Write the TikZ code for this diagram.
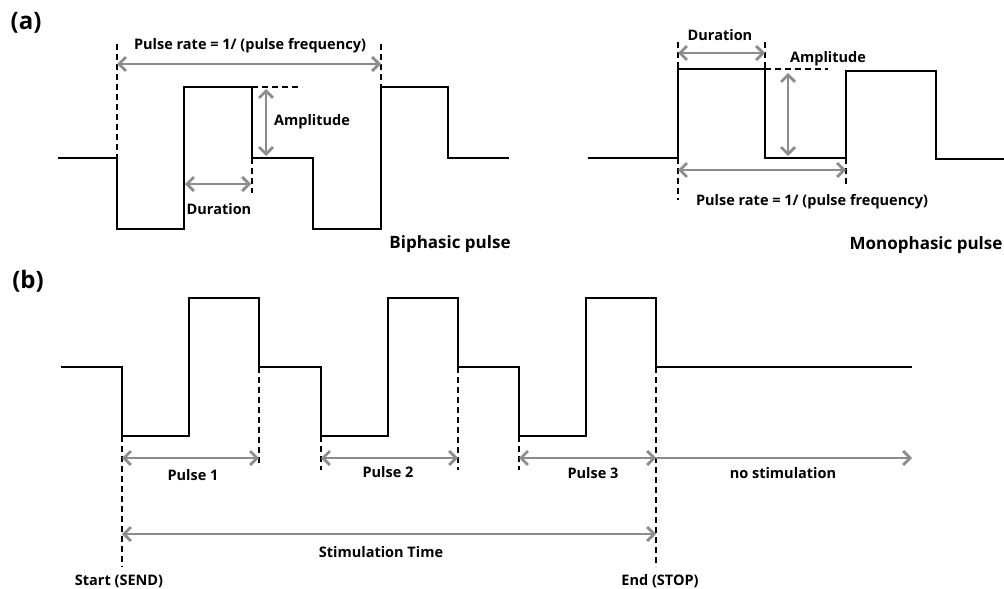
\documentclass[tikz,border=0pt]{standalone}
\usepackage{fontspec}
\setmainfont{Open Sans}
\usetikzlibrary{arrows.meta}
\definecolor{waveink}{HTML}{000000}
\definecolor{dimgray}{HTML}{8C8C8C}
\tikzset{
  wave/.style={draw=waveink, line width=2.8pt},
  guide/.style={draw=waveink, line width=1.6pt, dash pattern=on 6pt off 4pt},
  dimarrow/.style={draw=dimgray, line width=2.8pt,
    {Straight Barb[length=7pt,width=14pt]}-{Straight Barb[length=7pt,width=14pt]}},
  onearrow/.style={draw=dimgray, line width=2.8pt,
    -{Straight Barb[length=7pt,width=14pt]}},
  dimtext/.style={font=\bfseries\fontsize{14.5}{17}\selectfont, inner sep=0pt, text=waveink},
  titletext/.style={font=\bfseries\fontsize{17}{20}\selectfont, inner sep=0pt, text=waveink},
  tagtext/.style={font=\bfseries\fontsize{24}{28}\selectfont, inner sep=0pt, text=waveink},
}

\begin{document}
\begin{tikzpicture}[x=1pt, y=-1pt]
  \useasboundingbox (0,0) rectangle (1004,589);

  % (a) biphasic
  \node[tagtext] (taga) at (26,23) {(a)};
  \draw[wave] (58,158) -- (117,158) -- (117,229) -- (184,229) -- (184,87) -- (252,87)
    -- (252,158) -- (313,158) -- (313,229) -- (381,229) -- (381,87) -- (448,87)
    -- (448,158) -- (509,158);
  \coordinate (bA) at (117,44);
  \coordinate (bB) at (381,44);
  \draw[guide] (bA) -- (117,158);
  \draw[guide] (bB) -- (381,87);
  \draw[guide] (252,158) -- (252,193);
  \draw[guide] (252,87) -- (302,87);
  \draw[dimarrow] (117,64) -- (381,64);
  \draw[dimarrow] (266,89) -- (266,156);
  \draw[dimarrow] (185,184) -- (251,184);
  \node[dimtext] (brate) at (250,46) {Pulse rate = 1/ (pulse frequency)};
  \node[dimtext] (bamp) at (312,122) {Amplitude};
  \node[dimtext] (bdur) at (219,209) {Duration};
  \node[titletext] (btitle) at (450,244) {Biphasic pulse};

  % (a) monophasic
  \draw[wave] (588,158) -- (678,158) -- (678,69) -- (765,69) -- (765,158) -- (846,158)
    -- (846,71) -- (936,71) -- (936,159) -- (1004,159);
  \draw[guide] (678,42) -- (678,69);
  \draw[guide] (678,158) -- (678,200);
  \draw[guide] (765,42) -- (765,69);
  \draw[guide] (846,158) -- (846,187);
  \draw[guide] (765,69) -- (828,69);
  \draw[dimarrow] (678,53) -- (765,53);
  \draw[dimarrow] (788,73) -- (788,156);
  \draw[dimarrow] (678,170) -- (846,170);
  \node[dimtext] (mdur) at (720,35) {Duration};
  \node[dimtext] (mamp) at (828,59) {Amplitude};
  \node[dimtext] (mrate) at (812,202) {Pulse rate = 1/ (pulse frequency)};
  \node[titletext] (mtitle) at (926,245) {Monophasic pulse};

  % (b) pulse train
  \node[tagtext] (tagb) at (28,281) {(b)};
  \draw[wave] (61,367) -- (122,367) -- (122,436) -- (189,436) -- (189,298) -- (259,298)
    -- (259,367) -- (321,367) -- (321,436) -- (388,436) -- (388,298) -- (458,298)
    -- (458,367) -- (519,367) -- (519,436) -- (586,436) -- (586,298) -- (656,298)
    -- (656,367) -- (912,367);
  \draw[guide] (122,436) -- (122,567);
  \draw[guide] (259,367) -- (259,467);
  \draw[guide] (321,436) -- (321,470);
  \draw[guide] (458,367) -- (458,470);
  \draw[guide] (519,436) -- (519,470);
  \draw[guide] (656,367) -- (656,567);
  \draw[dimarrow] (122,458) -- (259,458);
  \draw[dimarrow] (321,458) -- (458,458);
  \draw[dimarrow] (519,458) -- (656,458);
  \draw[onearrow] (656,458) -- (912,458);
  \draw[dimarrow] (122,534) -- (656,534);
  \node[dimtext] (p1) at (193,475) {Pulse 1};
  \node[dimtext] (p2) at (388,472) {Pulse 2};
  \node[dimtext] (p3) at (593,473) {Pulse 3};
  \node[dimtext] (nostim) at (783,473) {no stimulation};
  \node[dimtext] (stim) at (381,552) {Stimulation Time};
  \node[dimtext] (start) at (119,581) {Start (SEND)};
  \node[dimtext] (stop) at (660,581) {End (STOP)};
\end{tikzpicture}
\end{document}
